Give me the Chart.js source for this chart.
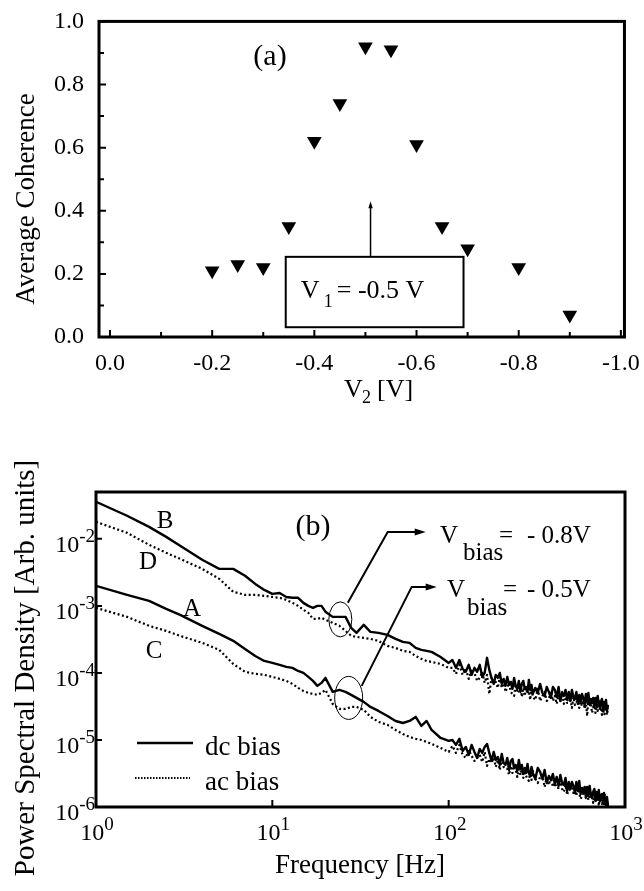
<!DOCTYPE html>
<html><head><meta charset="utf-8">
<script src="https://cdn.jsdelivr.net/npm/chart.js@4.4.1/dist/chart.umd.min.js"></script>
<style>
html,body{margin:0;padding:0;background:#fff;}
#wrap{position:relative;width:644px;height:891px;background:#fff;}
#ca{position:absolute;left:0;top:0;width:644px;height:440px;}
#cb{position:absolute;left:0;top:440px;width:644px;height:451px;}
</style></head><body>
<div id="wrap"><canvas id="ca" width="644" height="440"></canvas><canvas id="cb" width="644" height="451"></canvas></div>
<script>
// ---------- Panel (a) data ----------
const v2Volts = [-0.2, -0.25, -0.3, -0.35, -0.4, -0.45, -0.5, -0.55, -0.6, -0.65, -0.7, -0.8, -0.9];
const avgCoherence = [0.21, 0.23, 0.22, 0.35, 0.62, 0.74, 0.92, 0.91, 0.61, 0.35, 0.28, 0.22, 0.07];
const v2TickValues = [0, -0.2, -0.4, -0.6, -0.8, -1.0];
const v2AllTicks = [0, -0.1, -0.2, -0.3, -0.4, -0.5, -0.6, -0.7, -0.8, -0.9, -1.0];
const coherenceTickValues = [0, 0.2, 0.4, 0.6, 0.8, 1.0];
const coherenceAllTicks = [0, 0.1, 0.2, 0.3, 0.4, 0.5, 0.6, 0.7, 0.8, 0.9, 1.0];

// ---------- Panel (b) data ----------
const freqHz = [1,1.5,2,2.5,3,4,5,6,7,8,9,10,11,12,13,14,15,16,17,18,19,20,22,24,26,28,30,33,36,40,45,50,55,60,65,70,75,80,90,100,
  105,110,115,120,125,130,135,140,145,150,155,160,165,170,175,180,185,190,195,200,
  205,210,215,220,225,230,235,240,245,250,255,260,265,270,275,280,285,290,295,300,
  310,320,330,340,350,360,370,380,390,400,410,420,430,440,450,460,470,480,490,500,
  510,520,530,540,550,560,570,580,590,600,610,620,630,640,650,660,670,680,690,700,
  710,720,730,740,750,760,770,780,790,800];
// B : dc bias, Vbias = -0.8 V
const psdB = [3.57e-2,2.21e-2,1.51e-2,1.07e-2,7.88e-3,4.87e-3,3.57e-3,3.57e-3,2.81e-3,2.13e-3,1.73e-3,1.51e-3,1.56e-3,1.36e-3,1.32e-3,1.32e-3,1.11e-3,1.00e-3,9.36e-4,1.00e-3,1.00e-3,8.2e-4,6.86e-4,6.86e-4,6.86e-4,4.70e-4,3.96e-4,5.21e-4,4.10e-4,3.96e-4,3.70e-4,3.22e-4,2.90e-4,2.81e-4,2.36e-4,2.21e-4,2.13e-4,2.06e-4,1.73e-4,1.41e-4,
  1.56e-4,1.19e-4,1.56e-4,1.15e-4,1.04e-4,1.32e-4,9.36e-5,1.19e-4,1.04e-4,1.32e-4,
  8.73e-5,1.00e-4,1.68e-4,1.11e-4,8.44e-5,6.86e-5,9.36e-5,8.44e-5,1.00e-4,6.86e-5,
  8.15e-5,6.41e-5,8.73e-5,6.63e-5,7.35e-5,5.78e-5,8.44e-5,6.41e-5,5.78e-5,7.61e-5,
  5.21e-5,6.86e-5,7.61e-5,5.78e-5,6.19e-5,5.21e-5,7.88e-5,5.58e-5,6.63e-5,4.87e-5,
  5.98e-5,5.04e-5,6.86e-5,5.04e-5,4.54e-5,6.19e-5,5.21e-5,4.24e-5,6.19e-5,5.58e-5,
  4.39e-5,6.19e-5,3.82e-5,5.04e-5,4.54e-5,5.58e-5,3.96e-5,5.21e-5,3.82e-5,5.58e-5,
  4.39e-5,4.10e-5,5.21e-5,3.45e-5,4.70e-5,3.70e-5,4.87e-5,4.24e-5,3.33e-5,4.87e-5,
  3.70e-5,5.04e-5,3.33e-5,4.10e-5,3.57e-5,4.24e-5,3.11e-5,4.24e-5,3.22e-5,4.54e-5,
  3.45e-5,3.01e-5,3.70e-5,4.10e-5,2.71e-5,3.70e-5,2.90e-5,3.96e-5,2.71e-5,3.22e-5];
// D : ac bias, Vbias = -0.8 V
const psdD = [1.79e-2,1.23e-2,8.15e-3,6.19e-3,5.04e-3,3.57e-3,2.53e-3,1.62e-3,1.46e-3,1.46e-3,1.41e-3,1.36e-3,1.32e-3,1.23e-3,1.11e-3,1.00e-3,8.73e-4,7.88e-4,6.41e-4,6.41e-4,6.63e-4,6.19e-4,5.58e-4,5.04e-4,4.24e-4,3.57e-4,3.45e-4,3.33e-4,3.22e-4,3.01e-4,2.53e-4,2.36e-4,2.13e-4,2.06e-4,1.79e-4,1.62e-4,1.51e-4,1.46e-4,1.36e-4,1.19e-4,
  1.19e-4,9.68e-5,1.32e-4,9.36e-5,1.15e-4,8.15e-5,1.15e-4,1.00e-4,7.61e-5,8.44e-5,
  1.04e-4,7.10e-5,9.36e-5,4.87e-5,8.44e-5,6.86e-5,7.35e-5,5.98e-5,8.73e-5,5.98e-5,
  7.61e-5,5.21e-5,6.19e-5,7.10e-5,5.21e-5,4.87e-5,4.54e-5,6.86e-5,5.04e-5,5.39e-5,
  6.86e-5,4.39e-5,5.98e-5,4.54e-5,5.98e-5,4.87e-5,5.39e-5,3.96e-5,6.19e-5,4.39e-5,
  3.96e-5,5.78e-5,3.82e-5,4.54e-5,5.21e-5,3.82e-5,4.10e-5,5.39e-5,3.82e-5,4.54e-5,
  3.45e-5,4.70e-5,3.82e-5,5.21e-5,3.45e-5,4.10e-5,3.57e-5,3.57e-5,4.24e-5,3.01e-5,
  4.39e-5,3.33e-5,3.45e-5,4.54e-5,3.01e-5,3.70e-5,3.22e-5,4.24e-5,2.90e-5,3.70e-5,
  2.28e-5,4.10e-5,3.33e-5,3.70e-5,2.53e-5,3.01e-5,3.82e-5,2.53e-5,3.22e-5,2.71e-5,
  3.82e-5,2.90e-5,3.11e-5,2.36e-5,3.11e-5,2.36e-5,2.53e-5,3.33e-5,2.36e-5,3.01e-5];
// A : dc bias, Vbias = -0.5 V
const psdA = [1.99e-3,1.46e-3,1.19e-3,9.04e-4,7.35e-4,5.04e-4,3.82e-4,3.01e-4,2.28e-4,1.79e-4,1.51e-4,1.41e-4,1.32e-4,1.23e-4,1.19e-4,1.07e-4,1.00e-4,8.73e-5,7.61e-5,6.41e-5,7.10e-5,8.44e-5,5.21e-5,5.58e-5,5.21e-5,4.70e-5,4.24e-5,3.70e-5,3.11e-5,2.71e-5,2.28e-5,1.92e-5,1.79e-5,1.92e-5,2.21e-5,1.62e-5,1.92e-5,1.41e-5,1.07e-5,9.68e-6,
  1.00e-5,8.44e-6,1.04e-5,6.86e-6,7.88e-6,5.98e-6,8.44e-6,6.63e-6,5.39e-6,7.35e-6,
  6.41e-6,7.88e-6,8.73e-6,6.41e-6,4.87e-6,6.63e-6,5.04e-6,5.58e-6,4.24e-6,6.19e-6,
  4.54e-6,4.24e-6,5.39e-6,3.57e-6,4.87e-6,5.21e-6,3.82e-6,4.24e-6,3.45e-6,5.04e-6,
  3.70e-6,4.24e-6,3.11e-6,3.82e-6,3.22e-6,4.39e-6,3.22e-6,2.90e-6,3.96e-6,3.22e-6,
  2.62e-6,3.82e-6,3.33e-6,2.62e-6,3.57e-6,2.28e-6,2.90e-6,2.53e-6,3.11e-6,2.21e-6,
  2.81e-6,2.06e-6,3.01e-6,2.28e-6,2.13e-6,2.71e-6,1.73e-6,2.36e-6,1.86e-6,2.36e-6,
  2.06e-6,1.62e-6,2.36e-6,1.73e-6,2.45e-6,1.56e-6,1.92e-6,1.68e-6,1.99e-6,1.41e-6,
  1.99e-6,1.46e-6,2.06e-6,1.56e-6,1.36e-6,1.68e-6,1.86e-6,1.23e-6,1.68e-6,1.32e-6,
  1.79e-6,1.23e-6,1.46e-6,1.56e-6,1.23e-6,1.62e-6,1.23e-6,1.07e-6,1.41e-6,1.07e-6];
// C : ac bias, Vbias = -0.5 V
const psdC = [9.36e-4,6.86e-4,5.04e-4,4.24e-4,3.57e-4,2.81e-4,2.21e-4,1.36e-4,1.04e-4,9.68e-5,9.36e-5,8.73e-5,8.15e-5,7.61e-5,6.86e-5,5.98e-5,5.39e-5,5.04e-5,4.87e-5,4.70e-5,5.04e-5,5.58e-5,3.45e-5,2.90e-5,2.90e-5,3.11e-5,3.11e-5,2.81e-5,2.21e-5,1.86e-5,1.68e-5,1.41e-5,1.23e-5,1.11e-5,1.04e-5,1.00e-5,9.36e-6,8.73e-6,7.61e-6,6.63e-6,
  8.15e-6,6.41e-6,8.44e-6,5.98e-6,5.39e-6,7.10e-6,5.78e-6,4.87e-6,5.39e-6,5.98e-6,
  4.70e-6,6.63e-6,4.10e-6,5.21e-6,4.54e-6,5.39e-6,3.96e-6,5.04e-6,3.57e-6,5.21e-6,
  3.96e-6,3.70e-6,3.70e-6,3.01e-6,4.10e-6,3.22e-6,4.10e-6,3.57e-6,2.81e-6,3.96e-6,
  3.01e-6,4.10e-6,2.71e-6,3.22e-6,2.90e-6,2.62e-6,2.45e-6,3.33e-6,2.53e-6,3.45e-6,
  2.62e-6,2.28e-6,2.81e-6,3.01e-6,1.99e-6,2.71e-6,2.13e-6,2.81e-6,1.99e-6,2.28e-6,
  1.92e-6,1.92e-6,2.53e-6,1.86e-6,1.68e-6,2.13e-6,1.51e-6,1.99e-6,1.73e-6,2.21e-6,
  1.62e-6,1.86e-6,1.46e-6,2.06e-6,1.62e-6,1.32e-6,1.46e-6,1.62e-6,1.99e-6,1.36e-6,
  1.68e-6,1.27e-6,1.79e-6,1.32e-6,1.51e-6,1.15e-6,1.73e-6,1.27e-6,1.19e-6,1.51e-6,
  1.04e-6,1.36e-6,1.51e-6,1.11e-6,1.23e-6,1.04e-6,1.51e-6,1.07e-6,1.27e-6,1.04e-6];
const psdTickExps = [-6, -5, -4, -3, -2];
const freqTickExps = [0, 1, 2, 3];

// ---------- helpers ----------
const FONT = '"Liberation Serif", "Times New Roman", Times, serif';
Chart.defaults.font.family = FONT;
function txt(ctx, s, x, y, size, align, base) {
  ctx.font = size + 'px ' + FONT;
  ctx.textAlign = align || 'left';
  ctx.textBaseline = base || 'alphabetic';
  ctx.fillStyle = '#000';
  ctx.fillText(s, x, y);
}
function rightArrowHead(ctx, x, y, len, hw) {
  ctx.beginPath(); ctx.moveTo(x, y); ctx.lineTo(x - len, y - hw); ctx.lineTo(x - len, y + hw); ctx.closePath(); ctx.fill();
}

// ---------- panel (a) ----------
const panelAPlugin = {
  id: 'panelA',
  afterDraw(chart) {
    const { ctx, chartArea: a, scales: { x, y } } = chart;
    ctx.save();
    ctx.strokeStyle = '#000'; ctx.fillStyle = '#000';
    ctx.lineWidth = 2;
    ctx.beginPath();
    v2AllTicks.forEach((v, i) => { const px = x.getPixelForValue(v); const L = i % 2 === 0 ? 7 : 5; ctx.moveTo(px, a.bottom); ctx.lineTo(px, a.bottom - L); });
    coherenceAllTicks.forEach((v, i) => { const py = y.getPixelForValue(v); const L = i % 2 === 0 ? 7 : 5; ctx.moveTo(a.left, py); ctx.lineTo(a.left + L, py); });
    ctx.stroke();
    ctx.lineWidth = 3;
    ctx.strokeRect(a.left, a.top, a.right - a.left, a.bottom - a.top);
    const bx0 = x.getPixelForValue(-0.344), bx1 = x.getPixelForValue(-0.692);
    const by0 = y.getPixelForValue(0.254), by1 = y.getPixelForValue(0.031);
    ctx.lineWidth = 2;
    ctx.strokeRect(bx0, by0, bx1 - bx0, by1 - by0);
    const ax = x.getPixelForValue(-0.51), tipY = y.getPixelForValue(0.43);
    ctx.lineWidth = 1.5;
    ctx.beginPath(); ctx.moveTo(ax, by0); ctx.lineTo(ax, tipY + 4); ctx.stroke();
    ctx.beginPath(); ctx.moveTo(ax, tipY); ctx.lineTo(ax - 2.2, tipY + 7); ctx.lineTo(ax + 2.2, tipY + 7); ctx.closePath(); ctx.fill();
    txt(ctx, 'V', bx0 + 15, by0 + 41, 26);
    txt(ctx, '1', bx0 + 38, by0 + 50, 18);
    txt(ctx, '= -0.5 V', bx0 + 51, by0 + 41, 26);
    txt(ctx, '(a)', 270, 57, 30, 'center', 'middle');
    txt(ctx, 'V', 344, 397, 26);
    txt(ctx, '2', 362, 403, 18);
    txt(ctx, '[V]', 377, 397, 26);
    ctx.save();
    ctx.translate(27, 199); ctx.rotate(-Math.PI / 2);
    txt(ctx, 'Average Coherence', 0, 0, 27, 'center', 'middle');
    ctx.restore();
    ctx.restore();
  }
};

new Chart(document.getElementById('ca'), {
  type: 'scatter',
  data: { datasets: [{
    label: 'Average coherence',
    data: v2Volts.map((v, i) => ({ x: v, y: avgCoherence[i] })),
    pointStyle: 'triangle', rotation: 180, pointRadius: 8.5, pointHoverRadius: 8.5,
    backgroundColor: '#000', borderColor: '#000', borderWidth: 0
  }] },
  options: {
    responsive: false, animation: false, events: [],
    plugins: { legend: { display: false }, tooltip: { enabled: false } },
    layout: { padding: { left: 0, right: 19, top: 19, bottom: 0 } },
    scales: {
      x: {
        type: 'linear', reverse: true, min: -1.007, max: 0.0215,
        grid: { display: false }, border: { display: false },
        afterBuildTicks: s => { s.ticks = v2TickValues.map(v => ({ value: v })); },
        afterFit: s => { s.height = 103; },
        ticks: { color: '#000', font: { family: FONT, size: 24 }, padding: 4, maxRotation: 0, autoSkip: false,
                 callback: v => Number(v).toFixed(1) }
      },
      y: {
        type: 'linear', min: 0, max: 1,
        grid: { display: false }, border: { display: false },
        afterBuildTicks: s => { s.ticks = coherenceTickValues.map(v => ({ value: v })); },
        afterFit: s => { s.width = 99; },
        ticks: { color: '#000', font: { family: FONT, size: 24 }, padding: 7, autoSkip: false,
                 callback: v => Number(v).toFixed(1) }
      }
    }
  },
  plugins: [panelAPlugin]
});

// ---------- panel (b) ----------
const panelBPlugin = {
  id: 'panelB',
  afterDraw(chart) {
    const { ctx, chartArea: a, scales: { x, y } } = chart;
    ctx.save();
    ctx.strokeStyle = '#000'; ctx.fillStyle = '#000';
    ctx.lineWidth = 2;
    ctx.beginPath();
    psdTickExps.forEach(e => { const py = y.getPixelForValue(Math.pow(10, e)); ctx.moveTo(a.left, py); ctx.lineTo(a.left + 6, py); });
    freqTickExps.forEach(e => { const px = x.getPixelForValue(Math.pow(10, e)); ctx.moveTo(px, a.bottom); ctx.lineTo(px, a.bottom - 7); });
    ctx.stroke();
    ctx.lineWidth = 3;
    ctx.strokeRect(a.left, a.top, a.right - a.left, a.bottom - a.top);
    const baseSize = 24, supSize = 19;
    psdTickExps.forEach(e => {
      const py = y.getPixelForValue(Math.pow(10, e));
      const sup = String(e);
      ctx.font = supSize + 'px ' + FONT; const sw = ctx.measureText(sup).width;
      ctx.font = baseSize + 'px ' + FONT; const bw = ctx.measureText('10').width;
      const xr = a.left - 1;
      txt(ctx, '10', xr - sw - bw, py + 13, baseSize);
      txt(ctx, sup, xr - sw, py + 3, supSize);
    });
    freqTickExps.forEach(e => {
      const px = x.getPixelForValue(Math.pow(10, e));
      const sup = String(e);
      ctx.font = supSize + 'px ' + FONT; const sw = ctx.measureText(sup).width;
      ctx.font = baseSize + 'px ' + FONT; const bw = ctx.measureText('10').width;
      const x0 = px - (sw + bw) / 2 + 1;
      txt(ctx, '10', x0, a.bottom + 33, baseSize);
      txt(ctx, sup, x0 + bw, a.bottom + 23, supSize);
    });
    txt(ctx, '(b)', 313, 87, 30, 'center', 'middle');
    txt(ctx, 'B', 165, 81, 25, 'center', 'middle');
    txt(ctx, 'D', 148, 122, 25, 'center', 'middle');
    txt(ctx, 'A', 192, 169, 25, 'center', 'middle');
    txt(ctx, 'C', 154, 211, 25, 'center', 'middle');
    ctx.lineWidth = 1;
    const ell = (f, v, rx, ry) => { ctx.beginPath(); ctx.ellipse(x.getPixelForValue(f), y.getPixelForValue(v), rx, ry, 0, 0, Math.PI * 2); ctx.stroke(); };
    ell(24.3, 6.29e-4, 11.5, 17.5);
    ell(27.1, 4.24e-5, 14, 21.5);
    const arrow = pts => {
      const p = pts.map(q => [x.getPixelForValue(q[0]), y.getPixelForValue(q[1])]);
      ctx.lineWidth = 2;
      ctx.beginPath(); ctx.moveTo(p[0][0], p[0][1]);
      for (let i = 1; i < p.length; i++) ctx.lineTo(i === p.length - 1 ? p[i][0] - 8 : p[i][0], p[i][1]);
      ctx.stroke();
      const t = p[p.length - 1];
      rightArrowHead(ctx, t[0], t[1], 11, 3.5);
    };
    arrow([[26.8, 1.11e-3], [45.1, 1.27e-2], [74.1, 1.27e-2]]);
    arrow([[32.1, 6.4e-5], [61.7, 1.92e-3], [85.5, 1.92e-3]]);
    txt(ctx, 'V', 440, 103, 25); txt(ctx, 'bias', 463, 120, 25); txt(ctx, '=', 499, 103, 25); txt(ctx, '- 0.8V', 527, 103, 25);
    txt(ctx, 'V', 447, 157, 25); txt(ctx, 'bias', 467, 175, 25); txt(ctx, '=', 503, 157, 25); txt(ctx, '- 0.5V', 527, 157, 25);
    ctx.lineWidth = 2.5; ctx.setLineDash([]);
    ctx.beginPath(); ctx.moveTo(137, 303); ctx.lineTo(193, 303); ctx.stroke();
    ctx.lineWidth = 2; ctx.setLineDash([1.5, 1.5]);
    ctx.beginPath(); ctx.moveTo(135, 338); ctx.lineTo(190, 338); ctx.stroke();
    ctx.setLineDash([]);
    txt(ctx, 'dc bias', 205, 315, 27);
    txt(ctx, 'ac bias', 205, 350, 27);
    txt(ctx, 'Frequency [Hz]', 360, 433, 27, 'center');
    ctx.save();
    ctx.translate(26, 228); ctx.rotate(-Math.PI / 2);
    txt(ctx, 'Power Spectral Density [Arb. units]', 0, 0, 29, 'center', 'middle');
    ctx.restore();
    ctx.restore();
  }
};

const mk = vals => freqHz.map((f, i) => ({ x: f, y: vals[i] }));
const solid = { borderColor: '#000', borderWidth: 2.4, showLine: true, pointRadius: 0, pointHoverRadius: 0, borderJoinStyle: 'round', borderCapStyle: 'round', tension: 0 };
const dotted = { borderColor: '#000', borderWidth: 2.2, showLine: true, pointRadius: 0, pointHoverRadius: 0, borderDash: [2, 2.5], borderJoinStyle: 'round', tension: 0 };

new Chart(document.getElementById('cb'), {
  type: 'scatter',
  data: { datasets: [
    Object.assign({ label: 'A (dc bias, -0.5V)', data: mk(psdA) }, solid),
    Object.assign({ label: 'B (dc bias, -0.8V)', data: mk(psdB) }, solid),
    Object.assign({ label: 'C (ac bias, -0.5V)', data: mk(psdC) }, dotted),
    Object.assign({ label: 'D (ac bias, -0.8V)', data: mk(psdD) }, dotted)
  ] },
  options: {
    responsive: false, animation: false, events: [],
    plugins: { legend: { display: false }, tooltip: { enabled: false } },
    layout: { padding: { left: 0, right: 19, top: 52, bottom: 0 } },
    scales: {
      x: { type: 'logarithmic', min: 1, max: 1000, grid: { display: false }, border: { display: false },
           ticks: { display: false }, afterFit: s => { s.height = 84; } },
      y: { type: 'logarithmic', min: 1e-6, max: 0.05, grid: { display: false }, border: { display: false },
           ticks: { display: false }, afterFit: s => { s.width = 96; } }
    }
  },
  plugins: [panelBPlugin]
});
</script>
</body></html>
